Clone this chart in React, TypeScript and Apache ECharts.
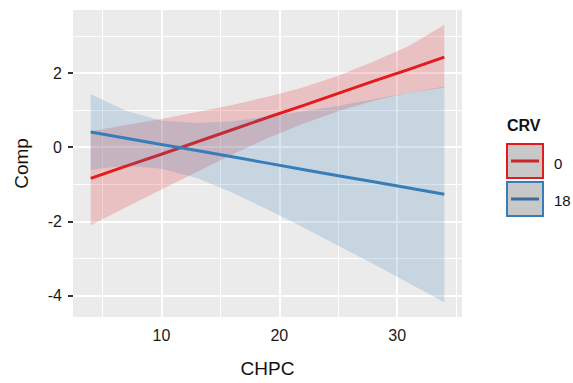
import React, { useEffect, useRef } from "react";
import * as echarts from "echarts";

const xs = [4, 7, 10, 13, 16, 19, 22, 25, 28, 31, 34];
const redFit = [-0.84, -0.51, -0.19, 0.14, 0.47, 0.8, 1.12, 1.45, 1.78, 2.1, 2.43];
const redLower = [-2.11, -1.62, -1.14, -0.67, -0.2, 0.24, 0.63, 0.97, 1.25, 1.47, 1.6];
const redUpper = [0.43, 0.6, 0.76, 0.95, 1.14, 1.36, 1.61, 1.93, 2.31, 2.73, 3.3];
const blueFit = [0.41, 0.24, 0.07, -0.09, -0.26, -0.43, -0.6, -0.77, -0.93, -1.1, -1.27];
const blueLower = [-0.61, -0.5, -0.58, -0.83, -1.22, -1.68, -2.16, -2.66, -3.15, -3.67, -4.18];
const blueUpper = [1.43, 0.98, 0.72, 0.65, 0.7, 0.82, 0.96, 1.12, 1.29, 1.47, 1.64];

const groups = ["0", "18"];
const xTicks = [10, 20, 30];
const xMinor = [5, 15, 25, 35];
const yTicks = [-4, -2, 0, 2];
const yMinor = [-3, -1, 1, 3];

const RED = "#E41A1C";
const BLUE = "#377EB8";
const FONT = "Liberation Sans, Arial, Helvetica, sans-serif";

function ribbon(lower: number[], upper: number[], color: string, z: number) {
  return {
    type: "custom",
    z,
    silent: true,
    data: xs.map((x, i) => [x, lower[i], upper[i]]),
    renderItem: (params: any, api: any) => {
      if (params.dataIndex !== 0) return { type: "group", children: [] };
      const pts: number[][] = [];
      for (let i = 0; i < xs.length; i++) pts.push(api.coord([xs[i], upper[i]]));
      for (let i = xs.length - 1; i >= 0; i--) pts.push(api.coord([xs[i], lower[i]]));
      return {
        type: "polygon",
        shape: { points: pts },
        style: { fill: color, opacity: 0.2, stroke: "none" },
      };
    },
  };
}

export default function App() {
  const ref = useRef<HTMLDivElement>(null);
  useEffect(() => {
    document.body.style.margin = "0";
    const chart = echarts.init(ref.current!, null, { renderer: "svg" });
    const gridLines = [
      ...xTicks.map((v) => ({ xAxis: v, lineStyle: { color: "#ffffff", width: 2, type: "solid" } })),
      ...xMinor.map((v) => ({ xAxis: v, lineStyle: { color: "#ffffff", width: 1, type: "solid" } })),
      ...yTicks.map((v) => ({ yAxis: v, lineStyle: { color: "#ffffff", width: 2, type: "solid" } })),
      ...yMinor.map((v) => ({ yAxis: v, lineStyle: { color: "#ffffff", width: 1, type: "solid" } })),
    ];
    chart.setOption({
      animation: false,
      grid: {
        left: 73,
        right: 111,
        top: 10,
        bottom: 61,
        show: true,
        backgroundColor: "#EBEBEB",
        borderWidth: 0,
      },
      xAxis: {
        type: "value",
        min: 2.5,
        max: 35.5,
        name: "CHPC",
        nameLocation: "middle",
        nameGap: 42,
        nameTextStyle: { fontSize: 19, color: "#111", fontFamily: FONT },
        axisLine: { show: false },
        axisTick: { show: true, length: 5, customValues: xTicks, lineStyle: { color: "#333", width: 2 } },
        axisLabel: { customValues: xTicks, fontSize: 16, color: "#1a1a1a", margin: 10, fontFamily: FONT },
        splitLine: { show: false },
      },
      yAxis: {
        type: "value",
        min: -4.58,
        max: 3.7,
        name: "Comp",
        nameLocation: "middle",
        nameGap: 42,
        nameTextStyle: { fontSize: 19, color: "#111", fontFamily: FONT },
        axisLine: { show: false },
        axisTick: { show: true, length: 5, customValues: yTicks, lineStyle: { color: "#333", width: 2 } },
        axisLabel: { customValues: yTicks, fontSize: 16, color: "#1a1a1a", margin: 11, fontFamily: FONT },
        splitLine: { show: false },
      },
      series: [
        {
          type: "line",
          name: "grid",
          data: [],
          z: 1,
          silent: true,
          markLine: {
            silent: true,
            z: 1,
            symbol: ["none", "none"],
            label: { show: false },
            data: gridLines,
          },
        },
        ribbon(redLower, redUpper, RED, 2),
        {
          type: "line",
          name: groups[0],
          z: 3,
          data: xs.map((x, i) => [x, redFit[i]]),
          showSymbol: false,
          lineStyle: { color: RED, width: 3 },
          silent: true,
        },
        ribbon(blueLower, blueUpper, BLUE, 4),
        {
          type: "line",
          name: groups[1],
          z: 5,
          data: xs.map((x, i) => [x, blueFit[i]]),
          showSymbol: false,
          lineStyle: { color: BLUE, width: 3 },
          silent: true,
        },
      ],
      graphic: [
        {
          type: "text",
          left: 507,
          top: 117,
          style: { text: "CRV", fontSize: 16, fontWeight: "bold", fill: "#111", fontFamily: FONT },
        },
        {
          type: "rect",
          shape: { x: 507, y: 144, width: 36, height: 34 },
          style: { fill: "#c8c8c8", stroke: RED, lineWidth: 2 },
        },
        {
          type: "line",
          shape: { x1: 511, y1: 161, x2: 539, y2: 161 },
          style: { stroke: "#c8262c", lineWidth: 3 },
        },
        {
          type: "rect",
          shape: { x: 507, y: 182, width: 36, height: 34 },
          style: { fill: "#c8c8c8", stroke: BLUE, lineWidth: 2 },
        },
        {
          type: "line",
          shape: { x1: 511, y1: 199, x2: 539, y2: 199 },
          style: { stroke: "#3a6d9c", lineWidth: 3 },
        },
        {
          type: "text",
          x: 554,
          y: 163,
          style: { text: groups[0], fontSize: 15, fill: "#111", fontFamily: FONT, verticalAlign: "middle" },
        },
        {
          type: "text",
          x: 554,
          y: 200,
          style: { text: groups[1], fontSize: 15, fill: "#111", fontFamily: FONT, verticalAlign: "middle" },
        },
      ],
    });
    return () => chart.dispose();
  }, []);
  return <div ref={ref} style={{ width: 573, height: 383 }} />;
}
